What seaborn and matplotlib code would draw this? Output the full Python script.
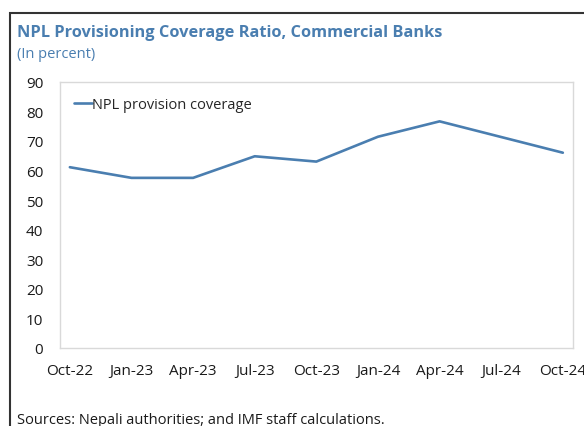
import matplotlib
matplotlib.use("Agg")
import matplotlib.pyplot as plt
import seaborn as sns
import pandas as pd
from matplotlib.patches import Rectangle

periods = ["Oct-22", "Jan-23", "Apr-23", "Jul-23", "Oct-23", "Jan-24", "Apr-24", "Jul-24", "Oct-24"]
coverage = [61.1, 57.5, 57.5, 64.8, 63.0, 71.4, 76.6, 71.3, 66.0]
yticks = [0, 10, 20, 30, 40, 50, 60, 70, 80, 90]

sns.set_theme(style="white")
plt.rcParams["font.family"] = ["Open Sans", "DejaVu Sans"]

df = pd.DataFrame({"pos": range(len(periods)), "value": coverage, "series": "NPL provision coverage"})

blue = "#4A7EB0"
fig = plt.figure(figsize=(5.84, 4.27), dpi=100)
ax = fig.add_axes([60 / 584, 1 - 349 / 427, (572.7 - 60) / 584, (349 - 82.7) / 427])

sns.lineplot(data=df, x="pos", y="value", hue="series", palette=[blue], linewidth=1.9, ax=ax)

ax.set_xlim(-0.16, len(periods) - 1 + 0.16)
ax.set_ylim(0, 90)
ax.set_yticks(yticks)
ax.set_xticks(range(len(periods)))
ax.set_xticklabels(periods)
ax.set_xlabel("")
ax.set_ylabel("")
ax.tick_params(axis="both", length=0, labelsize=11, colors="#1a1a1a")
ax.tick_params(axis="y", pad=12)
ax.tick_params(axis="x", pad=11)
for s in ax.spines.values():
    s.set_color("#D9D9D9")
    s.set_linewidth(1.0)
ax.grid(False)

leg = ax.legend(loc="upper left", frameon=False, fontsize=10.5, handlelength=1.2,
                handletextpad=0.0, bbox_to_anchor=(0.005, 0.985), borderaxespad=0.4)

fig.text(17 / 584, 1 - 33 / 427, "NPL Provisioning Coverage Ratio, Commercial Banks",
         color=blue, fontsize=11.8, fontweight="bold", va="center", ha="left")
fig.text(17 / 584, 1 - 54 / 427, "(In percent)", color=blue, fontsize=10.5, va="center", ha="left")
fig.text(17 / 584, 1 - 421 / 427, "Sources: Nepali authorities; and IMF staff calculations.",
         color="#1a1a1a", fontsize=10.5, va="center", ha="left")

frame = Rectangle((9.5 / 584, -0.2), 1.2, 1 - 14 / 427 + 0.2, transform=fig.transFigure,
                  fill=False, edgecolor="#333333", linewidth=1.5, clip_on=False)
fig.patches.append(frame)

fig.savefig("out.png", dpi=100)
